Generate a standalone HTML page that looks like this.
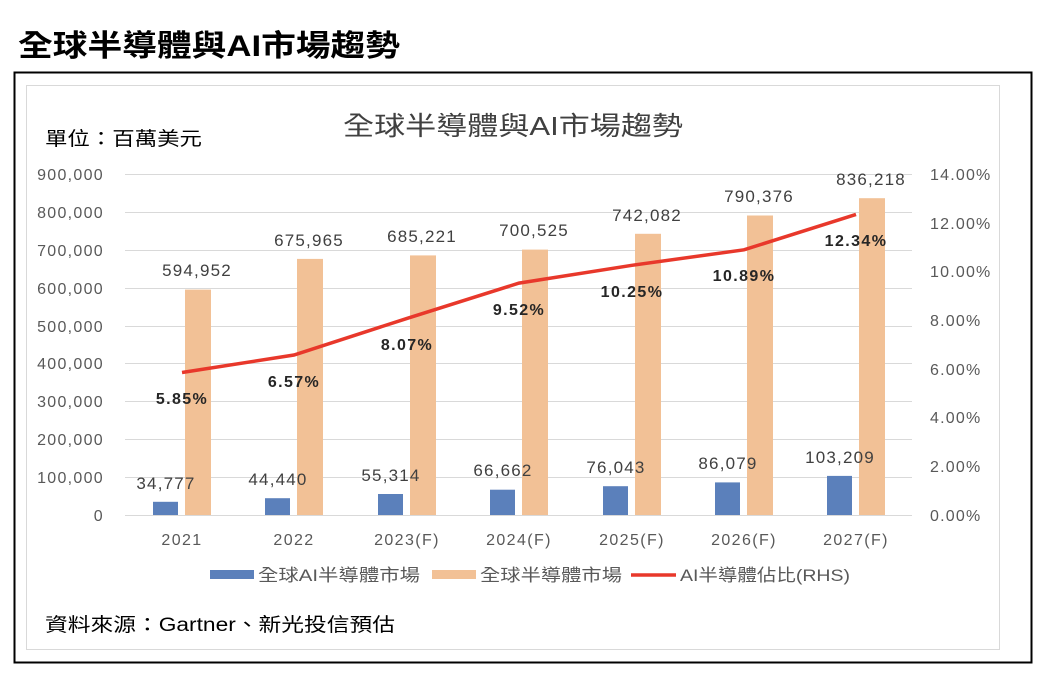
<!DOCTYPE html><html><head><meta charset="utf-8"><style>body{margin:0;background:#fff;width:1048px;height:686px;overflow:hidden;font-family:"Liberation Sans","Noto Sans CJK TC",sans-serif}</style></head><body>
<svg width="1048" height="686" xmlns="http://www.w3.org/2000/svg" font-family="Liberation Sans, Noto Sans CJK TC, sans-serif">
<text x="18" y="56" font-size="30" font-weight="bold" fill="#000" textLength="382" lengthAdjust="spacingAndGlyphs">全球半導體與AI市場趨勢</text>
<rect x="14.5" y="72.5" width="1017" height="590" fill="none" stroke="#000" stroke-width="2"/>
<rect x="26.5" y="85.5" width="973" height="564" fill="none" stroke="#d9d9d9"/>
<text x="343" y="135" font-size="26" fill="#404040" textLength="340" lengthAdjust="spacingAndGlyphs">全球半導體與AI市場趨勢</text>
<text x="45" y="145" font-size="19" fill="#000" textLength="157" lengthAdjust="spacingAndGlyphs">單位：百萬美元</text>
<g stroke="#d9d9d9" stroke-width="1">
<line x1="125" x2="912" y1="174.5" y2="174.5"/><line x1="125" x2="912" y1="212.5" y2="212.5"/><line x1="125" x2="912" y1="250.5" y2="250.5"/><line x1="125" x2="912" y1="288.5" y2="288.5"/><line x1="125" x2="912" y1="326.5" y2="326.5"/><line x1="125" x2="912" y1="363.5" y2="363.5"/><line x1="125" x2="912" y1="401.5" y2="401.5"/><line x1="125" x2="912" y1="439.5" y2="439.5"/><line x1="125" x2="912" y1="477.5" y2="477.5"/><line x1="125" x2="912" y1="515.5" y2="515.5"/>
</g>
<g font-size="16" fill="#595959" text-anchor="end" letter-spacing="1.3">
<text x="104" y="180">900,000</text><text x="104" y="218">800,000</text><text x="104" y="256">700,000</text><text x="104" y="294">600,000</text><text x="104" y="332">500,000</text><text x="104" y="369">400,000</text><text x="104" y="407">300,000</text><text x="104" y="445">200,000</text><text x="104" y="483">100,000</text><text x="104" y="521">0</text>
</g>
<g font-size="16" fill="#595959" letter-spacing="1.2">
<text x="930" y="180">14.00%</text><text x="930" y="229">12.00%</text><text x="930" y="277">10.00%</text><text x="930" y="326">8.00%</text><text x="930" y="375">6.00%</text><text x="930" y="423">4.00%</text><text x="930" y="472">2.00%</text><text x="930" y="521">0.00%</text>
</g>
<g fill="#f2c196">
<rect x="185" y="289.6" width="26" height="225.4"/><rect x="297" y="258.9" width="26" height="256.1"/><rect x="410" y="255.4" width="26" height="259.6"/><rect x="522" y="249.6" width="26" height="265.4"/><rect x="635" y="233.8" width="26" height="281.2"/><rect x="747" y="215.5" width="26" height="299.5"/><rect x="859" y="198.2" width="26" height="316.8"/>
</g>
<g fill="#5b80bb">
<rect x="153" y="501.8" width="25" height="13.2"/><rect x="265" y="498.2" width="25" height="16.8"/><rect x="378" y="494" width="25" height="21"/><rect x="490" y="489.7" width="25" height="25.3"/><rect x="603" y="486.2" width="25" height="28.8"/><rect x="715" y="482.4" width="25" height="32.6"/><rect x="827" y="475.9" width="25" height="39.1"/>
</g>
<polyline points="182,372.5 294,355 407,318.4 519,283.1 632,265.3 744,249.8 856,214.4" fill="none" stroke="#e8382b" stroke-width="3.5"/>
<g font-size="17" fill="#404040" text-anchor="middle" letter-spacing="1.2">
<text x="197" y="276">594,952</text><text x="309" y="246">675,965</text><text x="422" y="242">685,221</text><text x="534" y="236">700,525</text><text x="647" y="221">742,082</text><text x="759" y="202">790,376</text><text x="871" y="185">836,218</text>
<text x="166" y="489">34,777</text><text x="278" y="485">44,440</text><text x="391" y="481">55,314</text><text x="503" y="476">66,662</text><text x="616" y="473">76,043</text><text x="728" y="469">86,079</text><text x="840" y="463">103,209</text>
</g>
<g font-size="16" font-weight="bold" fill="#262626" text-anchor="middle" letter-spacing="1.4">
<text x="182" y="404">5.85%</text><text x="294" y="387">6.57%</text><text x="407" y="350">8.07%</text><text x="519" y="315">9.52%</text><text x="632" y="297">10.25%</text><text x="744" y="281">10.89%</text><text x="856" y="246">12.34%</text>
</g>
<g font-size="16" fill="#595959" text-anchor="middle" letter-spacing="1.4">
<text x="182" y="545">2021</text><text x="294" y="545">2022</text><text x="407" y="545">2023(F)</text><text x="519" y="545">2024(F)</text><text x="632" y="545">2025(F)</text><text x="744" y="545">2026(F)</text><text x="856" y="545">2027(F)</text>
</g>
<rect x="210" y="570" width="44" height="9" fill="#5b80bb"/>
<text x="258" y="581" font-size="17" fill="#595959" textLength="162" lengthAdjust="spacingAndGlyphs">全球AI半導體市場</text>
<rect x="432" y="570" width="44" height="9" fill="#f2c196"/>
<text x="480" y="581" font-size="17" fill="#595959" textLength="142" lengthAdjust="spacingAndGlyphs">全球半導體市場</text>
<line x1="631" y1="575" x2="676" y2="575" stroke="#e8382b" stroke-width="3.5"/>
<text x="680" y="581" font-size="17" fill="#595959" textLength="170" lengthAdjust="spacingAndGlyphs">AI半導體佔比(RHS)</text>
<text x="45" y="631" font-size="19" fill="#000" textLength="350" lengthAdjust="spacingAndGlyphs">資料來源：Gartner、新光投信預估</text>
</svg>
</body></html>
